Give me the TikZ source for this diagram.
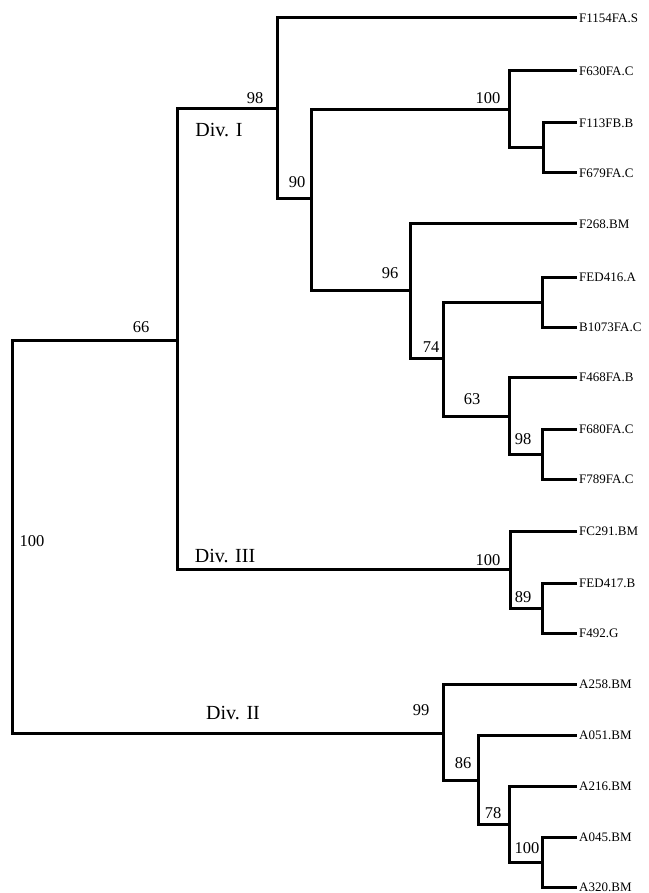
\documentclass[tikz,border=0pt]{standalone}
\usepackage{fontspec}
\setmainfont{Liberation Serif}
\usetikzlibrary{positioning}

\begin{document}
\begin{tikzpicture}[x=1pt,y=-1pt]
  \tikzstyle{branch}=[line width=3pt]
  \tikzstyle{leaf}=[anchor=west,inner sep=2pt,font=\fontsize{13}{14}\selectfont]
  \tikzstyle{boot}=[inner sep=0pt,font=\fontsize{16.5}{17}\selectfont]
  \tikzstyle{div}=[inner sep=0pt,font=\fontsize{20}{22}\selectfont]
  \useasboundingbox (0,0) rectangle (648,893);
  % internal nodes of the tree
  \coordinate (root) at (12,536);
  \coordinate (n66) at (177,340);
  \coordinate (n98a) at (277,109);
  \coordinate (n90) at (311,199);
  \coordinate (n100a) at (509,110);
  \coordinate (n113) at (543,148);
  \coordinate (n96) at (410,290);
  \coordinate (n74) at (443,358);
  \coordinate (nfed) at (542,302);
  \coordinate (n63) at (509,416);
  \coordinate (n98b) at (542,454);
  \coordinate (nIII) at (510,569);
  \coordinate (n89) at (542,608);
  \coordinate (nII) at (443,733);
  \coordinate (n86) at (478,780);
  \coordinate (n78) at (509,824);
  \coordinate (n100c) at (542,862);
  % strains
  \foreach \nm/\y/\txt in {f1154/18/F1154FA.S, f630/71/F630FA.C, f113/123/F113FB.B,
      f679/173/F679FA.C, f268/224/F268.BM, fed416/277/FED416.A, b1073/327/B1073FA.C,
      f468/377/F468FA.B, f680/429/F680FA.C, f789/479/F789FA.C, fc291/531/FC291.BM,
      fed417/583/FED417.B, f492/633/F492.G, a258/684/A258.BM, a051/735/A051.BM,
      a216/786/A216.BM, a045/837/A045.BM, a320/887/A320.BM}
    \node[leaf] (\nm) at (577,\y) {\txt};
  % branches
  \foreach \a/\b in {root/n66, root/nII, n66/n98a, n66/nIII, n98a/f1154, n98a/n90,
      n90/n100a, n90/n96, n100a/f630, n100a/n113, n113/f113, n113/f679,
      n96/f268, n96/n74, n74/nfed, n74/n63, nfed/fed416, nfed/b1073,
      n63/f468, n63/n98b, n98b/f680, n98b/f789, nIII/fc291, nIII/n89,
      n89/fed417, n89/f492, nII/a258, nII/n86, n86/a051, n86/n78,
      n78/a216, n78/n100c, n100c/a045, n100c/a320}
    \draw[branch] (\a) |- (\b.west);
  % bootstrap values
  \node[boot] (broot) at (32,541) {100};
  \node[boot] (b66) at (141,327) {66};
  \node[boot] (b98a) at (255,98) {98};
  \node[boot] (b90) at (297,182) {90};
  \node[boot] (b100a) at (488,98) {100};
  \node[boot] (b96) at (390,273) {96};
  \node[boot] (b74) at (431,347) {74};
  \node[boot] (b63) at (472,399) {63};
  \node[boot] (b98b) at (523,439) {98};
  \node[boot] (b100III) at (488,560) {100};
  \node[boot] (b89) at (523,597) {89};
  \node[boot] (b99) at (421,710) {99};
  \node[boot] (b86) at (463,763) {86};
  \node[boot] (b78) at (493,813) {78};
  \node[boot] (b100c) at (527,848) {100};
  % divisions
  \node[div] (divI) at (219,130) {Div. I};
  \node[div] (divIII) at (225,556) {Div. III};
  \node[div] (divII) at (233,713) {Div. II};
\end{tikzpicture}
\end{document}
